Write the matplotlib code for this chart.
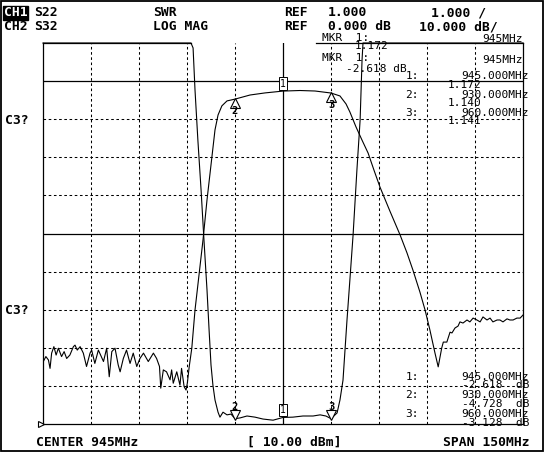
#!/usr/bin/env python3
# Network analyzer screen dump: CH1 S22 SWR and CH2 S32 log mag.
import matplotlib
matplotlib.use("Agg")
import matplotlib.pyplot as plt
import matplotlib.transforms as mtransforms

W, H = 546, 454

# CH2 S32 transmission, MHz / dB
s32_freq = [870.1, 870.9, 871.7, 872.2, 872.7, 873.4, 874.1, 874.8, 875.8, 876.6,
            877.4, 878.4, 879.5, 880.0, 880.7, 881.6, 882.6, 883.6, 884.7, 885.2,
            886.2, 887.3, 888.0, 888.9, 889.9, 890.7, 891.5, 892.5, 893.5, 894.1,
            895.1, 896.1, 897.2, 898.2, 899.3, 900.3, 901.4, 902.9, 904.5, 905.5,
            906.4, 906.8, 907.6, 908.6, 909.7, 910.2, 910.7, 911.8, 912.8, 913.3,
            914.1, 914.7, 915.1, 915.7, 916.5, 917.5, 918.75, 920.0, 921.25, 922.5,
            923.75, 924.7, 925.9, 927.5, 930.0, 934.7, 939.4, 945.0, 950.3, 955.0,
            960.0, 962.8, 964.7, 965.9, 967.8, 969.7, 971.6, 973.4, 975.3, 978.4,
            981.6, 983.75, 985.6, 987.8, 989.4, 990.9, 992.5, 993.5, 994.6,
            995.1, 996.2, 997.2, 997.8, 998.75, 999.7, 1000.3, 1001.25, 1002.5, 1003.4,
            1004.4, 1005.6, 1006.6, 1007.5, 1008.75, 1009.7, 1010.6, 1011.9, 1012.8, 1013.75,
            1015.0, 1015.9, 1016.9, 1018.1, 1019.1, 1020.0]
s32_db = [-73.6, -72.3, -73.2, -75.4, -71.4, -69.7, -71.9, -70.1, -72.3, -71.0,
          -72.8, -71.9, -69.7, -69.3, -70.6, -69.7, -71.4, -74.9, -71.4, -70.6,
          -74.1, -70.6, -71.9, -73.6, -70.1, -77.6, -71.0, -70.1, -74.5, -76.3,
          -72.8, -70.6, -74.1, -71.4, -74.9, -72.8, -71.4, -73.6, -71.4, -72.8,
          -74.9, -80.6, -75.8, -76.3, -78.4, -75.8, -79.3, -76.3, -79.8, -75.4,
          -80.2, -81.1, -79.3, -74.9, -70.1, -60.1, -50.9, -41.7, -31.2, -22.0,
          -12.8, -8.9, -6.5, -5.2, -4.728, -3.65, -3.1, -2.618, -2.47, -2.6,
          -3.128, -3.9, -6.0, -8.1, -12.0, -15.5, -18.9, -23.3, -27.8, -34.1,
          -40.4, -45.1, -49.6, -55.4, -60.1, -65.3, -71.4, -75.0, -70.05,
          -68.5, -68.5, -65.9, -66.1, -64.8, -64.3, -63.2, -63.5, -62.7, -63.2,
          -62.2, -62.7, -63.2, -61.9, -62.7, -62.2, -63.2, -62.7, -62.7, -63.2,
          -62.4, -62.7, -62.7, -62.2, -62.2, -61.4]

# CH1 S22 SWR (11 = pinned at top of screen)
swr_freq = [870.0, 916.25, 916.9, 917.5, 918.4, 919.4, 920.3, 921.25, 921.9, 922.5,
            923.1, 923.75, 924.7, 925.3, 926.25, 927.5, 928.75, 930.0, 931.6, 933.75,
            936.25, 938.75, 941.9, 945.0, 948.1, 951.25, 954.4, 956.6, 958.4, 960.0,
            961.9, 962.8, 963.75, 965.0, 965.9, 966.9, 968.1, 969.1, 969.7, 970.0, 1020.0]
swr_val = [11.0, 11.0, 10.87, 9.77, 8.45, 7.14, 5.83, 4.52, 3.47, 2.55,
           2.02, 1.63, 1.31, 1.18, 1.31, 1.24, 1.26, 1.140, 1.16, 1.21,
           1.18, 1.13, 1.10, 1.172, 1.18, 1.21, 1.21, 1.24, 1.21, 1.141,
           1.29, 1.63, 2.15, 3.73, 4.78, 5.96, 7.67, 8.98, 10.55, 11.0, 11.0]

marker_freq = [945.0, 930.0, 960.0]
marker_labels = ["945.000MHz", "930.000MHz", "960.000MHz"]
marker_swr = [1.172, 1.140, 1.141]
marker_db = [-2.618, -4.728, -3.128]

MONO = "DejaVu Sans Mono"
BIG = 9.4
SMALL = 8.0


def px(x, y):
    return x / W, 1 - y / H


def label(x, y, s, size=BIG, bold=True, ha="left", **kw):
    fx, fy = px(x, y)
    fig.text(fx, fy, s, family=MONO, fontsize=size,
             weight="bold" if bold else "normal", ha=ha, va="center", **kw)


fig = plt.figure(figsize=(W / 100, H / 100), dpi=100)
fig.patch.set_facecolor("white")

# outer frame
frame = plt.Rectangle((0.5 / W, 1 - 450.5 / H), 542.5 / W, 450 / H,
                      transform=fig.transFigure, fill=False, lw=1.3, ec="black")
fig.add_artist(frame)

left, right, top, bottom = 43, 523, 43, 424
ax = fig.add_axes([left / W, 1 - bottom / H, (right - left) / W, (bottom - top) / H])
ax.set_xlim(870, 1020)
ax.set_ylim(-90, 10)
for s in ax.spines.values():
    s.set_linewidth(0.9)
ax.spines["top"].set_visible(False)
ax.set_xticks([])
ax.set_yticks([])

# top border is only drawn in two pieces on the screen
ax.axhline(10, xmin=0, xmax=(191 - left) / (right - left), color="black", lw=0.9,
           clip_on=False)
ax.axhline(10, xmin=(316 - left) / (right - left), xmax=1, color="black", lw=0.9,
           clip_on=False)

grid_kw = dict(color="black", lw=0.75, ls=(0, (2.5, 2.5)), zorder=1)
for i in range(1, 10):
    f = 870 + 15 * i
    if i == 5:
        ax.axvline(f, color="black", lw=0.9, zorder=1)
    else:
        ax.axvline(f, **grid_kw)
for i in range(1, 10):
    d = -90 + 10 * i
    if d in (0, -40):
        ax.axhline(d, color="black", lw=0.9, zorder=1)
    else:
        ax.axhline(d, **grid_kw)

ax2 = ax.twinx()
ax2.set_ylim(1, 11)
ax2.set_yticks([])
ax2.axis("off")

ax.plot(s32_freq, s32_db, color="black", lw=0.8, zorder=3)
ax2.plot(swr_freq, swr_val, color="black", lw=0.8, zorder=3, clip_on=False)

dpi_t = fig.dpi_scale_trans
# S32 markers: triangle under trace, number below
for i, (f, v) in enumerate(zip(marker_freq, marker_db)):
    if i == 0:
        t = ax.transData + mtransforms.ScaledTranslation(0, 0.075, dpi_t)
        ax.text(f, v, "1", transform=t, family=MONO, fontsize=7, ha="center",
                va="center", zorder=5,
                bbox=dict(boxstyle="square,pad=0.12", fc="white", ec="black", lw=0.7))
    else:
        t = ax.transData + mtransforms.ScaledTranslation(0, -0.035, dpi_t)
        ax.plot([f], [v], marker="^", ms=6.5, mfc="white", mec="black", mew=0.8,
                transform=t, zorder=5, clip_on=False)
        t2 = ax.transData + mtransforms.ScaledTranslation(0, -0.115, dpi_t)
        ax.text(f, v, str(i + 1), transform=t2, family=MONO, fontsize=7.5,
                weight="bold", ha="center", va="center", zorder=5)

# SWR markers: triangle above trace, number above
for i, (f, v) in enumerate(zip(marker_freq, marker_swr)):
    if i == 0:
        t = ax2.transData + mtransforms.ScaledTranslation(0, 0.075, dpi_t)
        ax2.text(f, v, "1", transform=t, family=MONO, fontsize=7, ha="center",
                 va="center", zorder=5,
                 bbox=dict(boxstyle="square,pad=0.12", fc="white", ec="black", lw=0.7))
    else:
        t = ax2.transData + mtransforms.ScaledTranslation(0, 0.035, dpi_t)
        ax2.plot([f], [v], marker="v", ms=6.5, mfc="white", mec="black", mew=0.8,
                 transform=t, zorder=5, clip_on=False)
        t2 = ax2.transData + mtransforms.ScaledTranslation(0, 0.115, dpi_t)
        ax2.text(f, v, str(i + 1), transform=t2, family=MONO, fontsize=7.5,
                 weight="bold", ha="center", va="center", zorder=5)

# reference position arrow for CH1
t = ax2.transAxes + mtransforms.ScaledTranslation(-0.025, 0, dpi_t)
ax2.plot([0], [0], marker=">", ms=4.5, mfc="white", mec="black", mew=0.8,
         transform=t, clip_on=False)

# header
fx, fy = px(4, 13)
fig.text(fx, fy, "CH1", family=MONO, fontsize=BIG, weight="bold", color="white",
         va="center", bbox=dict(boxstyle="square,pad=0.05", fc="black", ec="black"))
label(34, 13, "S22")
label(153, 13, "SWR")
label(284, 13, "REF")
label(328, 13, "1.000")
label(431, 13, "1.000 /")
label(4, 27, "CH2")
label(34, 27, "S32")
label(153, 27, "LOG MAG")
label(284, 27, "REF")
label(328, 27, "0.000 dB")
label(419, 27, "10.000 dB/")

label(5, 121, "C3?")
label(5, 311, "C3?")

# active marker readout
label(322, 38, "MKR  1:", size=SMALL, bold=False)
label(523, 39, "945MHz", size=SMALL, bold=False, ha="right")
label(355, 46, "1.172", size=SMALL, bold=False)
label(322, 58, "MKR  1:", size=SMALL, bold=False)
label(523, 60, "945MHz", size=SMALL, bold=False, ha="right")
label(346, 69, "-2.618 dB", size=SMALL, bold=False)

# marker tables
for i in range(3):
    y = 76 + 18.5 * i
    label(419, y, f"{i + 1}:", size=SMALL, bold=False, ha="right")
    label(529, y, marker_labels[i], size=SMALL, bold=False, ha="right")
    label(448, y + 8.5, f"{marker_swr[i]:.3f}", size=SMALL, bold=False)
for i in range(3):
    y = 377 + 18.5 * i
    label(419, y, f"{i + 1}:", size=SMALL, bold=False, ha="right")
    label(529, y, marker_labels[i], size=SMALL, bold=False, ha="right")
    label(529, y + 8.5, f"{marker_db[i]:.3f}  dB", size=SMALL, bold=False, ha="right")

# footer
label(36, 442, "CENTER 945MHz")
label(247, 442, "[ 10.00 dBm]")
label(530, 442, "SPAN 150MHz", ha="right")

fig.savefig("out.png", dpi=100)
